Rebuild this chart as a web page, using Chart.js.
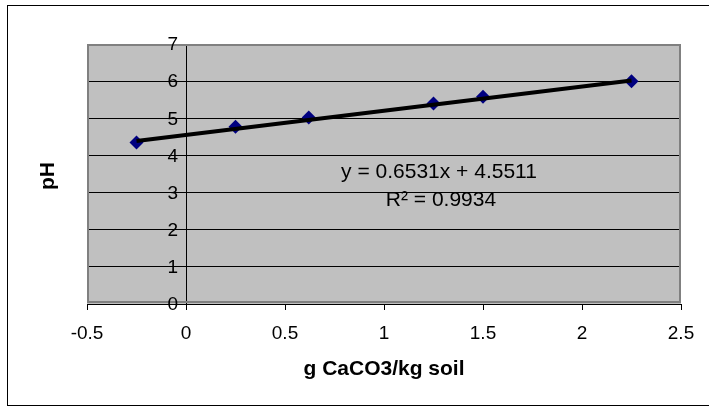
<!DOCTYPE html>
<html>
<head>
<meta charset="utf-8">
<script src="https://cdn.jsdelivr.net/npm/chart.js@4"></script>
<style>
  body { margin: 0; background: #fff; }
  #wrap { width: 709px; height: 408px; position: relative; }
</style>
</head>
<body>
<div id="wrap"><canvas id="phChart"></canvas></div>
<script>
// measured points: g CaCO3 per kg soil vs pH
const caco3 = [-0.25, 0.25, 0.62, 1.25, 1.5, 2.25];
const phValues = [4.35, 4.77, 5.02, 5.40, 5.58, 6.00];
// linear trendline end points (y = 0.6531x + 4.5511)
const trendX = [-0.25, 2.25];
const trendY = [4.39, 6.02];
const xTickLabels = ['-0.5', '0', '0.5', '1', '1.5', '2', '2.5'];
const yTickLabels = ['0', '1', '2', '3', '4', '5', '6', '7'];
const equationText = 'y = 0.6531x + 4.5511';
const r2Text = 'R² = 0.9934';
const xTitle = 'g CaCO3/kg soil';
const yTitle = 'pH';

const FONT = 'Arial, "Liberation Sans", sans-serif';

const plotDecor = {
  id: 'plotDecor',
  beforeDraw(chart) {
    const { ctx, chartArea: a } = chart;
    ctx.save();
    // outer chart frame (runs off the right edge in the original)
    ctx.strokeStyle = '#000';
    ctx.lineWidth = 1;
    ctx.strokeRect(7.5, 5.5, 760, 400);
    ctx.fillStyle = '#c0c0c0';
    ctx.fillRect(a.left, a.top, a.right - a.left, a.bottom - a.top);
    ctx.restore();
  },
  beforeDatasetsDraw(chart) {
    const { ctx, chartArea: a } = chart;
    ctx.save();
    ctx.strokeStyle = '#808080';
    ctx.lineWidth = 2;
    ctx.strokeRect(a.left + 1, a.top + 1, a.right - a.left - 2, a.bottom - a.top - 3);
    ctx.restore();
  },
  afterDraw(chart) {
    const { ctx, chartArea: a, scales } = chart;
    ctx.save();
    ctx.fillStyle = '#000';
    // y tick labels sit left of the axis that crosses at x = 0
    ctx.textAlign = 'right';
    ctx.textBaseline = 'middle';
    ctx.font = '19px ' + FONT;
    const ax = scales.x.getPixelForValue(0);
    yTickLabels.forEach(t => {
      ctx.fillText(t, ax - 8, scales.y.getPixelForValue(Number(t)) + 1);
    });

    ctx.textAlign = 'center';
    ctx.font = 'bold 21px ' + FONT;
    ctx.fillText(xTitle, (a.left + a.right) / 2, 369);
    ctx.save();
    ctx.translate(48, (a.top + a.bottom) / 2 + 2);
    ctx.rotate(-Math.PI / 2);
    ctx.fillText(yTitle, 0, 0);
    ctx.restore();

    ctx.font = '21px ' + FONT;
    ctx.fillText(equationText, 439, 172);
    ctx.fillText(r2Text, 441, 200);
    ctx.restore();
  }
};

new Chart(document.getElementById('phChart'), {
  type: 'scatter',
  data: {
    datasets: [
      {
        label: 'trend',
        type: 'line',
        data: trendX.map((x, i) => ({ x, y: trendY[i] })),
        borderColor: '#000',
        borderWidth: 4,
        pointRadius: 0,
        fill: false,
        order: 0
      },
      {
        label: 'pH',
        data: caco3.map((x, i) => ({ x, y: phValues[i] })),
        pointStyle: 'rectRot',
        pointRadius: 7,
        backgroundColor: '#000080',
        borderColor: '#000080',
        borderWidth: 0,
        order: 1
      }
    ]
  },
  options: {
    responsive: true,
    maintainAspectRatio: false,
    animation: false,
    layout: { padding: { left: 87, right: 28, top: 44, bottom: 0 } },
    plugins: { legend: { display: false }, tooltip: { enabled: false } },
    scales: {
      x: {
        type: 'linear',
        position: 'bottom',
        min: -0.5, max: 2.5,
        afterFit(scale) { scale.height = 104; },
        ticks: {
          stepSize: 0.5, color: '#000', font: { family: FONT, size: 19 }, padding: 12, maxRotation: 0,
          callback: (v, i) => xTickLabels[i]
        },
        grid: { drawOnChartArea: false, drawTicks: true, tickLength: 6, color: '#000' },
        border: { display: true, color: '#000', width: 1 }
      },
      y: {
        type: 'linear',
        position: { x: 0 },
        min: 0, max: 7,
        ticks: { stepSize: 1, display: false },
        grid: { color: '#000', lineWidth: 1, drawTicks: true, tickLength: 6 },
        border: { display: true, color: '#000', width: 1 }
      }
    }
  },
  plugins: [plotDecor]
});
</script>
</body>
</html>
